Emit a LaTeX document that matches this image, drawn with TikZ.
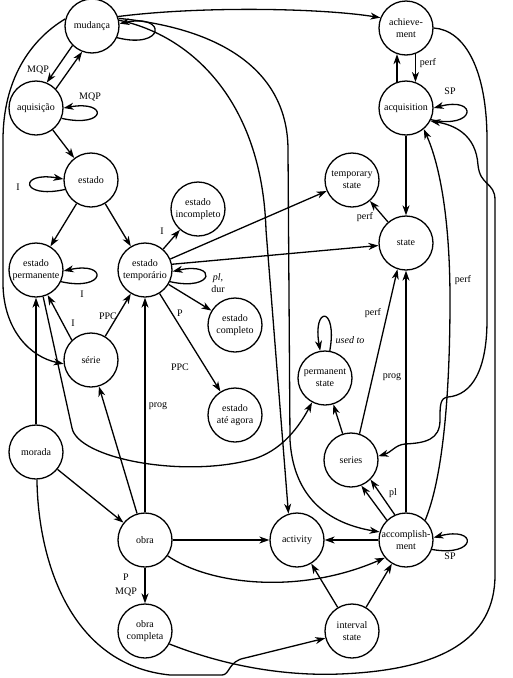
\documentclass[tikz,border=0pt]{standalone}
\usepackage{fontspec}
\setmainfont{Liberation Serif}
\usetikzlibrary{arrows.meta,calc}
\begin{document}
\begin{tikzpicture}[x=1pt,y=-1pt,
  st/.style={circle,draw,line width=1.3pt,minimum size=54pt,inner sep=-4pt,font=\fontsize{10}{12}\selectfont,align=center},
  arr/.style={-{Stealth[length=10pt,width=7pt,inset=3pt]},line width=1.3pt},
  lbl/.style={font=\fontsize{10}{12}\selectfont,inner sep=1pt,align=center}]
\useasboundingbox (0,0) rectangle (512,678);
% states
\node[st] (mud) at (92,26) {mudança};
\node[st] (aqu) at (36,108) {aquisição};
\node[st] (est) at (91,180) {estado};
\node[st] (eperm) at (36,270) {estado\\permanente};
\node[st] (etemp) at (145,270) {estado\\temporário};
\node[st] (einc) at (198,209) {estado\\incompleto};
\node[st] (serie) at (91,360) {série};
\node[st] (morada) at (36,452) {morada};
\node[st] (obra) at (145,540) {obra};
\node[st] (ocomp) at (145,631) {obra\\completa};
\node[st] (ecomp) at (235,325) {estado\\completo};
\node[st] (eate) at (235,415) {estado\\até agora};
\node[st] (tstate) at (352,180) {temporary\\state};
\node[st] (state) at (406,243) {state};
\node[st] (pstate) at (325,378) {permanent\\state};
\node[st] (series) at (351,460) {series};
\node[st] (achiev) at (406,28) {achieve-\\ment};
\node[st] (acqui) at (406,108) {acquisition};
\node[st] (activity) at (297,540) {activity};
\node[st] (accomp) at (406,540) {accomplish-\\ment};
\node[st] (istate) at (352,631) {interval\\state};
% self loops
\draw[arr] (mud.-25) .. controls +(48,12) and +(48,-10) .. (mud.5);
\draw[arr] (aqu.-22) .. controls +(45,10) and +(45,-8) .. (aqu.0);
\draw[arr] (est.200) .. controls +(-45,10) and +(-45,-8) .. (est.178);
\draw[arr] (eperm.-25) .. controls +(45,10) and +(45,-10) .. (eperm.-2);
\draw[arr] (etemp.-25) .. controls +(45,10) and +(45,-10) .. (etemp.-3);
\draw[arr] (acqui.-25) .. controls +(45,10) and +(45,-12) .. (acqui.0);
\draw[arr] (accomp.-20) .. controls +(45,8) and +(45,-12) .. (accomp.5);
\draw[arr] (pstate.80) .. controls +(8,-45) and +(-8,-45) .. (pstate.100);
% left part
\draw[arr] (mud.225) -- (aqu.67);
\draw[arr] (aqu.44) -- (mud.249);
\draw[arr] (aqu) -- (est);
\draw[arr] (est) -- (eperm);
\draw[arr] (est) -- (etemp);
\draw[arr] (etemp) -- (einc);
\draw[arr] (etemp) -- (ecomp);
\draw[arr] (etemp) -- (eate);
\draw[arr] (etemp) -- (tstate);
\draw[arr] (etemp.12) -- (state);
\draw[arr] (serie.134) -- (eperm.-65);
\draw[arr] (serie) -- (etemp);
\draw[arr] (morada) -- (eperm);
\draw[arr] (morada) -- (obra);
\draw[arr] (obra) -- (serie);
\draw[arr] (obra) -- (etemp);
\draw[arr] (obra) -- (ocomp);
\draw[arr] (obra) -- (activity);
% right part
\draw[arr] (accomp) -- (activity);
\draw[arr] (istate) -- (activity);
\draw[arr] (istate) -- (accomp);
\draw[arr] (series) -- (pstate);
\draw[arr] (series.72) -- (state.-108);
\draw[arr] (accomp) -- (state);
\draw[arr] (acqui) -- (state);
\draw[arr] (state) -- (tstate);
\draw[arr] (acqui.109.5) -- (achiev.-109.5);
\draw[arr] (achiev.-70.5) -- (acqui.70.5);
\draw[arr] (accomp.114) -- (series.-45);
\draw[arr] (accomp.134) -- (series.-68);
% long curves
\draw[arr] (mud.20) .. controls (200,6) and (320,8) .. (achiev.158);
\draw[arr] (mud.12) .. controls (190,35) and (262,100) .. (266,230) -- (activity.108);
\draw[arr] (mud.16) .. controls (220,28) and (288,70) .. (288,150) -- (290,440) .. controls (293,490) and (320,522) .. (accomp.163);
\draw[arr] (mud.165) .. controls (30,40) and (3,80) .. (3,140) -- (3,285) .. controls (4,330) and (30,357) .. (serie.188);
\draw[arr] (eperm.-75) -- (72,428) .. controls (78,458) and (180,478) .. (250,460) .. controls (282,452) and (300,425) .. (pstate.-118);
\draw[arr] (obra.-35) .. controls (210,585) and (300,595) .. (accomp.-140);
\draw[arr] (morada.-88) .. controls (38,560) and (70,665) .. (170,675) -- (222,675) .. controls (230,675) and (228,661) .. (245,658) -- (istate.-165);
\draw[arr] (ocomp.-28) .. controls (230,668) and (290,676) .. (340,674) .. controls (440,670) and (495,640) .. (495,575) -- (495,200) .. controls (495,182) and (480,186) .. (478,165) .. controls (476,135) and (455,125) .. (acqui.-28);
\draw[arr] (accomp.46) .. controls (442,480) and (450,400) .. (450,300) .. controls (450,220) and (440,165) .. (acqui.-50);
\draw[arr] (achiev.0) .. controls (465,30) and (487,70) .. (487,140) -- (487,320) .. controls (487,370) and (472,395) .. (448,397) .. controls (440,398) and (440,405) .. (440,420) .. controls (440,440) and (425,443) .. (405,444) .. controls (395,445) and (392,452) .. (series.8);
% labels
\node[lbl] (l1) at (38,70) {MQP};
\node[lbl] (l2) at (90,97) {MQP};
\node[lbl] (l3) at (18,187) {I};
\node[lbl] (l4) at (82,294) {I};
\node[lbl] (l5) at (162,231) {I};
\node[lbl] (l6) at (218,283) {\itshape pl,\\dur};
\node[lbl] (l7) at (180,313) {P};
\node[lbl] (l8) at (180,367) {PPC};
\node[lbl] (l9) at (73,323) {I};
\node[lbl] (l10) at (108,316) {PPC};
\node[lbl] (l11) at (158,406) {prog};
\node[lbl] (l12) at (126,577) {P};
\node[lbl] (l13) at (126,592) {MQP};
\node[lbl] (l14) at (428,63) {perf};
\node[lbl] (l15) at (450,91) {SP};
\node[lbl] (l16) at (365,217) {perf};
\node[lbl] (l17) at (350,340) {\itshape used to};
\node[lbl] (l18) at (373,313) {perf};
\node[lbl] (l19) at (392,377) {prog};
\node[lbl] (l20) at (463,280) {perf};
\node[lbl] (l21) at (393,493) {pl};
\node[lbl] (l22) at (450,556) {SP};
\end{tikzpicture}
\end{document}
